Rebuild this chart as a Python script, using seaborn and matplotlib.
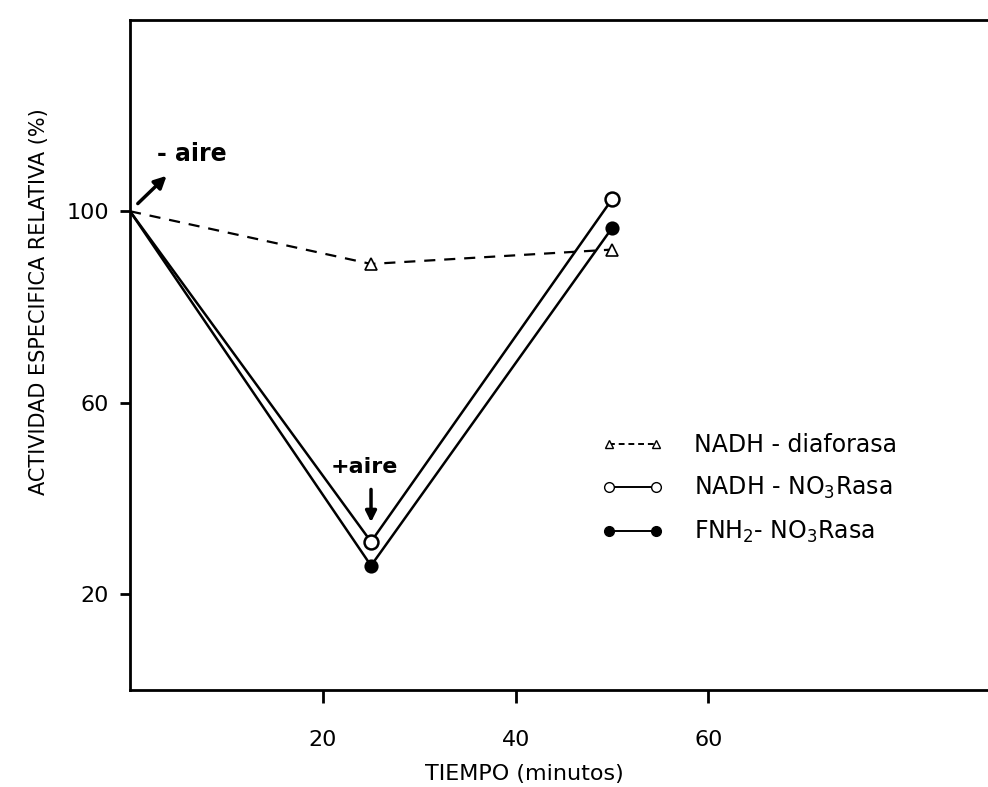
import matplotlib
matplotlib.use("Agg")
import matplotlib.pyplot as plt
import seaborn as sns
import pandas as pd
from matplotlib.lines import Line2D

# ---- data ----
tiempo = [0, 25, 50]
nadh_diaforasa = [100, 89, 92]
nadh_no3rasa = [100, 31, 102.5]
fnh2_no3rasa = [100, 26, 96.5]
x_ticks = [20, 40, 60]
y_ticks = [20, 60, 100]
labels = ["NADH - diaforasa", "NADH - NO$_3$Rasa", "FNH$_2$- NO$_3$Rasa"]

sns.set_theme(style="ticks")
plt.rcParams['font.family'] = ['DejaVu Sans']
plt.rcParams['text.color'] = 'black'
plt.rcParams['axes.labelcolor'] = 'black'
plt.rcParams['xtick.color'] = 'black'
plt.rcParams['ytick.color'] = 'black'

fig = plt.figure(figsize=(9.88, 7.87), dpi=100)
ax = fig.add_axes([0.1316, 0.123, 0.8684, 0.852])

df = pd.DataFrame({"t": tiempo, "a": nadh_diaforasa, "b": nadh_no3rasa, "c": fnh2_no3rasa})

sns.lineplot(data=df, x="t", y="a", ax=ax, color="black", lw=1.6,
             linestyle=(0, (5, 4)), marker="^", markevery=[1, 2], ms=9,
             mfc="white", mec="black", mew=1.2)
sns.lineplot(data=df, x="t", y="b", ax=ax, color="black", lw=1.8,
             marker="o", markevery=[1, 2], ms=10, mfc="white", mec="black", mew=1.8)
sns.lineplot(data=df, x="t", y="c", ax=ax, color="black", lw=1.8,
             marker="o", markevery=[1, 2], ms=9, mfc="black", mec="black", mew=1.2)

ax.set_xlim(0, 89)
ax.set_ylim(0, 140)
ax.set_xticks(x_ticks)
ax.set_yticks(y_ticks)
ax.tick_params(axis="x", length=9, width=2, pad=20, labelsize=16, colors="black")
ax.tick_params(axis="y", length=7, width=2, pad=8, labelsize=16, colors="black")
for s in ["left", "bottom", "top"]:
    ax.spines[s].set_linewidth(2)
    ax.spines[s].set_color("black")
ax.spines["right"].set_visible(False)

ax.set_xlabel("TIEMPO (minutos)", fontsize=16, labelpad=12)
ax.xaxis.set_label_coords(0.46, -0.11)
ax.set_ylabel("ACTIVIDAD ESPECIFICA RELATIVA (%)", fontsize=15)
ax.yaxis.set_label_coords(-0.095, 0.58)

# annotations
ax.annotate("", xy=(4.0, 107.8), xytext=(0.6, 101.2),
            arrowprops=dict(arrowstyle="-|>", color="black", lw=2.5, mutation_scale=18))
ax.text(2.8, 109.5, "- aire", fontsize=17, fontweight="bold", ha="left", va="bottom")
ax.annotate("", xy=(25, 34.5), xytext=(25, 42.5),
            arrowprops=dict(arrowstyle="-|>", color="black", lw=2.5, mutation_scale=16))
ax.text(24.3, 46.5, "+aire", fontsize=16, fontweight="bold", ha="center", va="center")

handles = [
    Line2D([], [], color="black", lw=1.4, linestyle=(0, (3, 2)), marker="^", ms=6,
           mfc="white", mec="black"),
    Line2D([], [], color="black", lw=1.4, marker="o", ms=7, mfc="white", mec="black"),
    Line2D([], [], color="black", lw=1.4, marker="o", ms=7, mfc="black", mec="black"),
]
leg = ax.legend(handles, labels, loc="upper left", bbox_to_anchor=(0.525, 0.415),
                frameon=False, fontsize=17, numpoints=2, handlelength=2.6,
                handletextpad=1.3, labelspacing=0.75)

fig.savefig("out.png", dpi=100)
